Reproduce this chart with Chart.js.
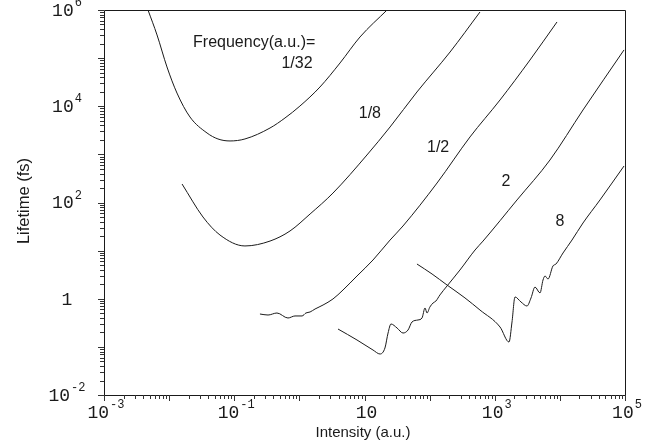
<!DOCTYPE html>
<html><head><meta charset="utf-8">
<script src="https://cdn.jsdelivr.net/npm/chart.js@4/dist/chart.umd.min.js"></script>
<style>html,body{margin:0;padding:0;background:#fff;}#wrap{width:656px;height:444px;position:relative;}</style>
</head><body><div id="wrap"><canvas id="c" width="656" height="444"></canvas></div>
<script>
// Frequency 1/32
const f132X = [4.74e-3, 6.52e-3, 9.27e-3, 1.32e-2, 2.09e-2, 3.82e-2, 5.62e-2, 8.61e-2, 0.146, 0.354, 0.601, 1.02, 2.07, 4.21, 8.53, 22.2];
const f132Y = [1e6, 3.03e5, 6.55e4, 1.88e4, 5.98e3, 2.78e3, 2.09e3, 1.90e3, 2.09e3, 3.53e3, 5.70e3, 1.01e4, 2.51e4, 7.93e4, 2.75e5, 1e6];
// Frequency 1/8
const f18X = [1.58e-2, 3.31e-2, 6.04e-2, 0.146, 0.354, 0.718, 1.46, 3.28, 10.9, 24.7, 63.9, 206, 593];
const f18Y = [242, 50.0, 21.1, 12.5, 15.8, 25.6, 57.7, 157, 970, 3710, 1.98e4, 1.34e5, 9.08e5];
// Frequency 1/2
const f12X = [0.248, 0.330, 0.453, 0.668, 0.857, 1.10, 1.26, 1.46, 1.74, 2.31, 3.28, 4.68, 7.67, 13.5, 24.7, 39.0, 130, 417, 1205, 3476, 9036];
const f12Y = [0.482, 0.459, 0.506, 0.398, 0.439, 0.439, 0.506, 0.531, 0.612, 0.741, 0.989, 1.52, 2.97, 6.38, 16.6, 32.5, 254, 2300, 1.35e4, 9.14e4, 5.64e5];
// Frequency 2
const f2X = [3.92, 7.67, 13.5, 17.3, 20.6, 23.0, 25.5, 31.6, 39.0, 46.6, 53.6, 66.2, 76.4, 84.9, 91.2, 101, 113, 125, 144, 185, 292, 498, 661, 2198, 7047, 22650, 96600];
const f2Y = [0.235, 0.139, 0.0861, 0.0711, 0.0948, 0.194, 0.299, 0.247, 0.194, 0.224, 0.329, 0.362, 0.398, 0.643, 0.506, 0.675, 0.817, 0.897, 1.20, 1.84, 3.95, 10.3, 15.8, 113, 764, 8360, 1.48e5];
// Frequency 8
const f8X = [63.9, 109, 185, 349, 593, 1205, 1656, 1841, 2046, 2529, 3126, 3606, 4150, 4955, 5508, 5916, 6577, 7834, 8710, 11170, 15350, 22650, 41300, 96600];
const f8Y = [5.27, 3.27, 1.93, 1.04, 0.583, 0.259, 0.126, 0.329, 1.09, 0.857, 0.706, 1.04, 1.75, 1.32, 2.45, 2.97, 2.57, 4.80, 5.27, 8.93, 16.6, 37.5, 113, 573];

// Tick labels
const xTickValues = [1e-3, 1e-1, 10, 1e3, 1e5];
const xTickBases = ['10', '10', '10', '10', '10'];
const xTickExps = ['-3', '-1', '', '3', '5'];
const yTickValues = [1e-2, 1, 1e2, 1e4, 1e6];
const yTickBases = ['10', '1', '10', '10', '10'];
const yTickExps = ['-2', '', '2', '4', '6'];

// Curve annotations (data coordinates)
const noteTexts = ['Frequency(a.u.)=', '1/32', '1/8', '1/2', '2', '8'];
const noteX = [0.0233, 0.92, 12.1, 135, 1490, 10000];
const noteY = [2.06e5, 7.55e4, 6900, 1355, 267, 39.4];
const noteAlign = ['left', 'center', 'center', 'center', 'center', 'center'];

const xTitle = 'Intensity (a.u.)';
const yTitle = 'Lifetime (fs)';

function pts(xs, ys) { return xs.map((v, i) => ({x: v, y: ys[i]})); }
const series = [[f132X, f132Y], [f18X, f18Y], [f12X, f12Y], [f2X, f2Y], [f8X, f8Y]];

const INK = '#1a1a1a';
const SANS = '"Liberation Sans", Arial, Helvetica, sans-serif';
const MONO = '"Liberation Mono", "Courier New", monospace';

function drawPow(ctx, base, exp, cx, cy) {
  ctx.font = '18px ' + MONO;
  const wb = ctx.measureText(base).width;
  ctx.font = '12px ' + MONO;
  const we = exp ? ctx.measureText(exp).width + 1 : 0;
  const left = cx - (wb + we) / 2;
  ctx.textAlign = 'left';
  ctx.textBaseline = 'middle';
  ctx.font = '18px ' + MONO;
  ctx.fillText(base, left, cy);
  if (exp) {
    ctx.font = '12px ' + MONO;
    ctx.fillText(exp, left + wb + 1, cy - 8);
  }
}

const framePlugin = {
  id: 'frame',
  afterDraw(chart) {
    const ctx = chart.ctx;
    const a = chart.chartArea;
    const xs = chart.scales.x, ys = chart.scales.y;
    ctx.save();
    ctx.strokeStyle = INK;
    ctx.lineWidth = 1;
    ctx.beginPath();
    ctx.rect(Math.round(a.left) + 0.5, Math.round(a.top) + 0.5, Math.round(a.right - a.left), Math.round(a.bottom - a.top));
    ctx.stroke();
    // minor + major ticks
    ctx.strokeStyle = '#333';
    ctx.beginPath();
    for (let n = -3; n <= 5; n++) {
      for (let k = 1; k <= 9; k++) {
        const v = k * Math.pow(10, n);
        if (v > 1e5 * 1.0001) break;
        const px = Math.round(xs.getPixelForValue(v)) + 0.5;
        const len = k === 1 ? 6 : 4;
        ctx.moveTo(px, a.bottom);
        ctx.lineTo(px, a.bottom + len);
      }
    }
    for (let n = -2; n <= 6; n++) {
      for (let k = 1; k <= 9; k++) {
        const v = k * Math.pow(10, n);
        if (v > 1e6 * 1.0001) break;
        const py = Math.round(ys.getPixelForValue(v)) + 0.5;
        const len = k === 1 ? 6 : 4;
        ctx.moveTo(a.left, py);
        ctx.lineTo(a.left - len, py);
      }
    }
    ctx.stroke();
    // tick labels
    ctx.fillStyle = INK;
    xTickValues.forEach((v, i) => drawPow(ctx, xTickBases[i], xTickExps[i], xs.getPixelForValue(v) + 2, a.bottom + 18));
    yTickValues.forEach((v, i) => drawPow(ctx, yTickBases[i], yTickExps[i], 67, ys.getPixelForValue(v) + 1));
    // axis titles
    ctx.font = '15px ' + SANS;
    ctx.textAlign = 'center';
    ctx.textBaseline = 'middle';
    ctx.fillText(xTitle, 363, 433);
    ctx.save();
    ctx.translate(24, 201);
    ctx.rotate(-Math.PI / 2);
    ctx.font = '16.5px ' + SANS;
    ctx.fillText(yTitle, 0, 0);
    ctx.restore();
    // annotations
    ctx.font = '16px ' + SANS;
    noteTexts.forEach((t, i) => {
      ctx.textAlign = noteAlign[i];
      ctx.fillText(t, xs.getPixelForValue(noteX[i]), ys.getPixelForValue(noteY[i]));
    });
    ctx.restore();
  }
};

new Chart(document.getElementById('c'), {
  type: 'line',
  data: {
    datasets: series.map(s => ({
      data: pts(s[0], s[1]),
      borderColor: INK,
      borderWidth: 1,
      pointRadius: 0,
      fill: false,
      cubicInterpolationMode: 'monotone'
    }))
  },
  options: {
    responsive: false,
    animation: false,
    devicePixelRatio: 1,
    layout: {padding: {left: 104, right: 31, top: 10, bottom: 49}},
    plugins: {legend: {display: false}, tooltip: {enabled: false}},
    scales: {
      x: {type: 'logarithmic', min: 1e-3, max: 1e5, display: false},
      y: {type: 'logarithmic', min: 1e-2, max: 1e6, display: false}
    }
  },
  plugins: [framePlugin]
});
</script>
</body></html>
